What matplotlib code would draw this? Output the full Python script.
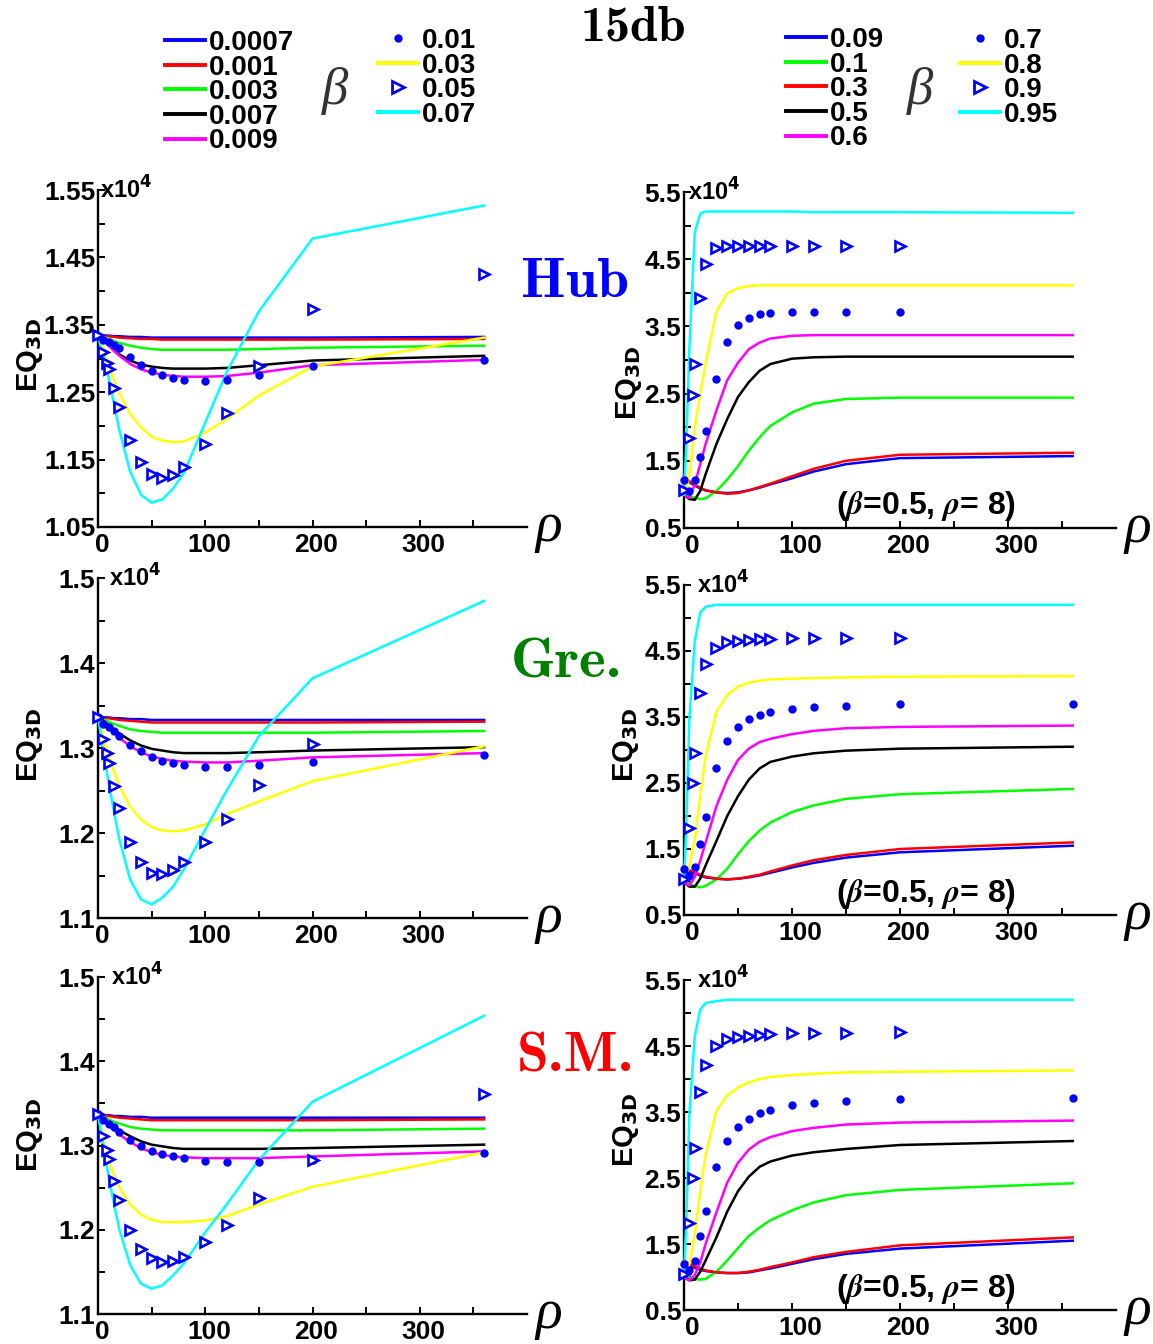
import numpy as np
import matplotlib
matplotlib.use("Agg")
import matplotlib.pyplot as plt
import matplotlib.transforms as mtransforms
from matplotlib.lines import Line2D
from matplotlib.ticker import MultipleLocator

plt.rcParams["font.family"] = ["Liberation Sans", "DejaVu Sans"]
plt.rcParams["font.weight"] = "bold"

nan = np.nan

# x grids (rho) for the lines and the two marker series
rho_line = [0, 2, 5, 10, 15, 20, 30, 40, 50, 60, 70, 80, 100, 120, 150, 200, 360]
rho_dot = [0, 5, 10, 15, 20, 30, 40, 50, 60, 70, 80, 100, 120, 150, 200, 360]
rho_tri = [0, 5, 8, 10, 15, 20, 30, 40, 50, 60, 70, 80, 100, 120, 150, 200, 360]

# legend labels (beta)
lo_line_labels = ["0.0007", "0.001", "0.003", "0.007", "0.009"]
lo_mark_labels = ["0.01", "0.03", "0.05", "0.07"]
hi_line_labels = ["0.09", "0.1", "0.3", "0.5", "0.6"]
hi_mark_labels = ["0.7", "0.8", "0.9", "0.95"]

# line colours, same order as the value lists below
lo_colors = ["#0000ff", "#ff0000", "#00ff00", "black", "#ff00ff", "#ffff00", "#00ffff"]
hi_colors = ["#0000ff", "#00ff00", "#ff0000", "black", "#ff00ff", "#ffff00", "#00ffff"]

# ---- EQ_3D (x1e4), small beta: 0.0007, 0.001, 0.003, 0.007, 0.009, 0.03, 0.07
hub_lo_lines = [
    [1.335, 1.335, 1.334, 1.334, 1.333, 1.333, 1.332, 1.332, 1.331, 1.331, 1.331, 1.331, 1.331, 1.331, 1.331, 1.331, 1.332],
    [1.335, 1.335, 1.334, 1.333, 1.332, 1.331, 1.330, 1.329, 1.329, 1.328, 1.328, 1.328, 1.328, 1.328, 1.328, 1.328, 1.329],
    [1.335, 1.334, 1.332, 1.329, 1.326, 1.323, 1.319, 1.316, 1.314, 1.313, 1.313, 1.313, 1.313, 1.313, 1.314, 1.316, 1.319],
    [1.335, 1.333, 1.329, 1.321, 1.313, 1.306, 1.297, 1.291, 1.288, 1.286, 1.285, 1.285, 1.285, 1.286, 1.290, 1.297, 1.304],
    [1.335, 1.332, 1.327, 1.319, 1.311, 1.304, 1.292, 1.284, 1.279, 1.276, 1.274, 1.273, 1.273, 1.274, 1.279, 1.290, 1.298],
    [1.335, 1.328, 1.315, 1.290, 1.268, 1.248, 1.218, 1.198, 1.184, 1.178, 1.176, 1.177, 1.190, 1.210, 1.245, 1.288, 1.331],
    [1.335, 1.320, 1.305, 1.271, 1.232, 1.193, 1.132, 1.098, 1.086, 1.091, 1.107, 1.130, 1.205, 1.280, 1.370, 1.478, 1.527],
]
hub_lo_dots = [1.334, 1.328, 1.324, 1.320, 1.315, 1.302, 1.291, 1.282, 1.276, 1.271, 1.268, 1.266, 1.268, 1.275, 1.289, 1.298]
hub_lo_tri = [1.335, 1.310, 1.293, 1.284, 1.256, 1.228, 1.179, 1.146, 1.128, 1.122, 1.127, 1.139, 1.173, 1.219, 1.289, 1.373, 1.425]

gre_lo_lines = [
    [1.337, 1.337, 1.336, 1.336, 1.335, 1.335, 1.334, 1.334, 1.333, 1.333, 1.333, 1.333, 1.333, 1.333, 1.333, 1.333, 1.333],
    [1.337, 1.337, 1.336, 1.335, 1.334, 1.333, 1.332, 1.331, 1.330, 1.330, 1.330, 1.330, 1.330, 1.330, 1.330, 1.330, 1.331],
    [1.337, 1.336, 1.334, 1.331, 1.328, 1.326, 1.322, 1.320, 1.319, 1.318, 1.318, 1.318, 1.318, 1.318, 1.318, 1.318, 1.320],
    [1.337, 1.335, 1.332, 1.327, 1.322, 1.317, 1.309, 1.303, 1.299, 1.297, 1.295, 1.294, 1.294, 1.294, 1.295, 1.297, 1.301],
    [1.337, 1.334, 1.330, 1.324, 1.318, 1.312, 1.302, 1.295, 1.290, 1.287, 1.285, 1.284, 1.283, 1.283, 1.285, 1.289, 1.294],
    [1.337, 1.327, 1.310, 1.290, 1.272, 1.255, 1.231, 1.216, 1.207, 1.203, 1.202, 1.203, 1.210, 1.222, 1.237, 1.261, 1.302],
    [1.337, 1.320, 1.294, 1.259, 1.224, 1.192, 1.145, 1.122, 1.116, 1.124, 1.137, 1.157, 1.204, 1.250, 1.314, 1.382, 1.473],
]
gre_lo_dots = [1.337, 1.328, 1.325, 1.320, 1.314, 1.303, 1.296, 1.290, 1.285, 1.282, 1.280, 1.278, 1.278, 1.280, 1.284, 1.292]
gre_lo_tri = [1.337, 1.311, 1.294, 1.282, 1.255, 1.229, 1.189, 1.166, 1.153, 1.152, 1.156, 1.166, 1.190, 1.217, 1.256, 1.305, nan]

sm_lo_lines = [
    [1.337, 1.337, 1.336, 1.336, 1.335, 1.335, 1.334, 1.334, 1.333, 1.333, 1.333, 1.333, 1.333, 1.333, 1.333, 1.333, 1.333],
    [1.337, 1.337, 1.336, 1.335, 1.334, 1.333, 1.332, 1.331, 1.330, 1.330, 1.330, 1.330, 1.330, 1.330, 1.330, 1.330, 1.331],
    [1.337, 1.336, 1.334, 1.331, 1.328, 1.326, 1.322, 1.320, 1.319, 1.318, 1.318, 1.318, 1.318, 1.318, 1.318, 1.318, 1.320],
    [1.337, 1.335, 1.332, 1.327, 1.322, 1.318, 1.311, 1.305, 1.301, 1.299, 1.297, 1.296, 1.296, 1.296, 1.296, 1.297, 1.301],
    [1.337, 1.334, 1.330, 1.325, 1.319, 1.313, 1.304, 1.297, 1.292, 1.289, 1.287, 1.286, 1.285, 1.285, 1.285, 1.287, 1.293],
    [1.337, 1.326, 1.306, 1.281, 1.265, 1.250, 1.230, 1.218, 1.212, 1.209, 1.209, 1.209, 1.211, 1.216, 1.230, 1.251, 1.292],
    [1.337, 1.322, 1.300, 1.262, 1.230, 1.200, 1.158, 1.136, 1.130, 1.134, 1.146, 1.160, 1.197, 1.230, 1.283, 1.352, 1.454],
]
sm_lo_dots = [1.337, 1.330, 1.326, 1.322, 1.316, 1.307, 1.300, 1.294, 1.290, 1.287, 1.285, 1.282, 1.281, 1.281, 1.283, 1.291]
sm_lo_tri = [1.337, 1.311, 1.295, 1.284, 1.258, 1.235, 1.200, 1.177, 1.166, 1.162, 1.163, 1.168, 1.185, 1.206, 1.238, 1.283, 1.361]

# ---- EQ_3D (x1e4), large beta: 0.09, 0.1, 0.3, 0.5, 0.6, 0.8, 0.95
hub_hi_lines = [
    [1.20, 1.22, 1.18, 1.13, 1.09, 1.06, 1.03, 1.02, 1.03, 1.06, 1.10, 1.15, 1.24, 1.34, 1.45, 1.54, 1.57],
    [1.05, 1.02, 0.98, 0.95, 0.93, 0.94, 1.05, 1.22, 1.42, 1.65, 1.85, 2.02, 2.22, 2.35, 2.42, 2.44, 2.44],
    [1.28, 1.25, 1.20, 1.14, 1.10, 1.06, 1.03, 1.01, 1.02, 1.06, 1.11, 1.16, 1.27, 1.38, 1.50, 1.59, 1.62],
    [1.00, 0.97, 0.93, 0.92, 1.05, 1.30, 1.75, 2.12, 2.45, 2.67, 2.84, 2.94, 3.02, 3.04, 3.05, 3.05, 3.05],
    [1.00, 0.97, 0.95, 1.15, 1.45, 1.75, 2.25, 2.70, 2.96, 3.16, 3.26, 3.32, 3.36, 3.37, 3.37, 3.37, 3.37],
    [1.00, 1.05, 1.30, 2.00, 2.50, 2.95, 3.72, 3.99, 4.07, 4.10, 4.11, 4.11, 4.11, 4.11, 4.11, 4.11, 4.11],
    [1.00, 1.70, 3.20, 4.90, 5.18, 5.21, 5.21, 5.21, 5.21, 5.21, 5.21, 5.21, 5.21, 5.20, 5.20, 5.20, 5.19],
]
hub_hi_dots = [1.22, 1.05, 1.22, 1.55, 1.94, 2.72, 3.27, 3.52, 3.63, 3.68, 3.70, 3.71, 3.71, 3.71, 3.71, nan]
hub_hi_tri = [1.07, 1.84, 2.48, 2.94, 3.92, 4.43, 4.67, 4.70, 4.70, 4.70, 4.70, 4.70, 4.70, 4.70, 4.70, 4.70, nan]

gre_hi_lines = [
    [1.18, 1.20, 1.17, 1.13, 1.10, 1.07, 1.05, 1.04, 1.05, 1.07, 1.10, 1.14, 1.22, 1.29, 1.37, 1.45, 1.55],
    [1.05, 1.00, 0.97, 0.94, 0.92, 0.94, 1.04, 1.20, 1.42, 1.62, 1.78, 1.90, 2.06, 2.16, 2.26, 2.33, 2.41],
    [1.25, 1.22, 1.18, 1.14, 1.11, 1.08, 1.05, 1.04, 1.05, 1.08, 1.11, 1.16, 1.25, 1.33, 1.41, 1.50, 1.60],
    [1.00, 0.97, 0.93, 0.93, 1.05, 1.25, 1.62, 2.00, 2.30, 2.55, 2.72, 2.82, 2.90, 2.95, 2.99, 3.02, 3.05],
    [1.00, 0.97, 0.95, 1.08, 1.32, 1.60, 2.15, 2.55, 2.85, 3.02, 3.12, 3.17, 3.24, 3.29, 3.33, 3.35, 3.37],
    [1.00, 1.05, 1.25, 1.65, 2.30, 2.90, 3.58, 3.83, 3.96, 4.02, 4.05, 4.07, 4.08, 4.09, 4.10, 4.11, 4.12],
    [1.00, 1.80, 3.50, 4.65, 5.08, 5.17, 5.20, 5.20, 5.20, 5.20, 5.20, 5.20, 5.20, 5.20, 5.20, 5.20, 5.20],
]
gre_hi_dots = [1.20, 1.10, 1.22, 1.58, 1.98, 2.72, 3.14, 3.35, 3.47, 3.53, 3.57, 3.62, 3.65, 3.67, 3.69, 3.70]
gre_hi_tri = [1.05, 1.82, 2.50, 2.96, 3.87, 4.30, 4.55, 4.63, 4.65, 4.67, 4.68, 4.68, 4.69, 4.69, 4.69, 4.70, nan]

sm_hi_lines = [
    [1.18, 1.20, 1.17, 1.14, 1.11, 1.09, 1.07, 1.06, 1.06, 1.07, 1.10, 1.13, 1.20, 1.27, 1.35, 1.43, 1.55],
    [1.05, 1.02, 0.99, 0.97, 0.96, 0.97, 1.08, 1.25, 1.44, 1.62, 1.75, 1.86, 2.01, 2.13, 2.24, 2.32, 2.42],
    [1.25, 1.23, 1.20, 1.16, 1.13, 1.10, 1.07, 1.06, 1.06, 1.08, 1.11, 1.15, 1.22, 1.30, 1.38, 1.48, 1.60],
    [1.00, 0.98, 0.95, 0.96, 1.08, 1.25, 1.60, 1.99, 2.30, 2.52, 2.67, 2.75, 2.84, 2.89, 2.94, 3.00, 3.06],
    [1.00, 0.97, 0.95, 1.03, 1.22, 1.50, 1.98, 2.43, 2.73, 2.93, 3.05, 3.12, 3.21, 3.26, 3.31, 3.34, 3.37],
    [1.00, 1.05, 1.20, 1.65, 2.30, 2.85, 3.52, 3.75, 3.87, 3.95, 4.00, 4.03, 4.06, 4.08, 4.10, 4.11, 4.13],
    [1.00, 1.80, 3.50, 4.65, 5.05, 5.15, 5.18, 5.20, 5.20, 5.20, 5.20, 5.20, 5.20, 5.20, 5.20, 5.20, 5.20],
]
sm_hi_dots = [1.20, 1.10, 1.25, 1.62, 2.00, 2.67, 3.06, 3.27, 3.40, 3.48, 3.53, 3.60, 3.63, 3.66, 3.69, 3.71]
sm_hi_tri = [1.05, 1.82, 2.50, 2.95, 3.81, 4.21, 4.50, 4.60, 4.63, 4.65, 4.66, 4.68, 4.69, 4.70, 4.70, 4.71, nan]

lo_top_ticks = [1.05, 1.15, 1.25, 1.35, 1.45, 1.55]
lo_ticks = [1.1, 1.2, 1.3, 1.4, 1.5]
hi_ticks = [0.5, 1.5, 2.5, 3.5, 4.5, 5.5]

W, H = 1153, 1344
fig = plt.figure(figsize=(W / 100, H / 100), dpi=100)


def px_axes(x0, y_top, x1, y_bot):
    return fig.add_axes([x0 / W, 1 - y_bot / H, (x1 - x0) / W, (y_bot - y_top) / H])


def draw_panel(ax, lines, colors, dots, tris, ticks, fmt, minor, lab_xy, exp_x, xlab_dx, note=False):
    for vals, c in zip(lines, colors):
        ax.plot(rho_line, vals, color=c, lw=1.8, clip_on=False, zorder=3)
    ax.plot(rho_dot, dots, ls="none", marker="o", ms=5, color="#0000ff",
            clip_on=False, zorder=4)
    ax.plot(rho_tri, tris, ls="none", marker=">", ms=7, mfc="white", mec="#0000ff",
            mew=1.9, clip_on=False, zorder=5)
    ax.set_xlim(0, 400)
    ax.set_ylim(ticks[0], ticks[-1])
    ax.set_xticks([0, 100, 200, 300])
    ax.set_xticks([50, 150, 250, 350], minor=True)
    ax.set_yticks(ticks)
    ax.set_yticklabels([fmt % t for t in ticks])
    ax.yaxis.set_minor_locator(MultipleLocator(minor))
    for s in ("top", "right"):
        ax.spines[s].set_visible(False)
    for s in ("left", "bottom"):
        ax.spines[s].set_linewidth(1.7)
    ax.tick_params(which="both", direction="in", length=5, width=1.4, labelsize=19)
    ax.tick_params(axis="y", pad=2)
    ax.tick_params(axis="x", pad=4.5)
    # the x tick labels sit a little right of their ticks in the original
    shift = mtransforms.ScaledTranslation(xlab_dx / 100, 0, fig.dpi_scale_trans)
    for lab in ax.get_xticklabels():
        lab.set_transform(lab.get_transform() + shift)
    ax.set_ylabel(r"EQ$_{\mathbf{3D}}$", fontsize=21, fontweight="bold")
    ax.yaxis.set_label_coords(*lab_xy)
    ax.text(exp_x, 1.0, r"x10$^{\mathbf{4}}$", transform=ax.transAxes, fontsize=17,
            ha="left", va="center")
    ax.text(1.05, 0.0, "ρ", transform=ax.transAxes, fontsize=40, family="Liberation Serif",
            style="italic", weight="normal", ha="center", va="center")
    if note:
        ax.text(0.56, 0.065, r"($\beta$=0.5, $\rho$= 8)", transform=ax.transAxes,
                fontsize=23, ha="center", va="center", math_fontfamily="stix")


ax_tl = px_axes(98, 190, 527, 527)
ax_ml = px_axes(98, 578, 527, 918)
ax_bl = px_axes(98, 977, 527, 1314)
ax_tr = px_axes(684, 192, 1116, 528)
ax_mr = px_axes(684, 585, 1116, 915)
ax_br = px_axes(684, 980, 1116, 1310)

draw_panel(ax_tl, hub_lo_lines, lo_colors, hub_lo_dots, hub_lo_tri, lo_top_ticks, "%.2f", 0.05, (-0.124, 0.51), 0.005, 4)
draw_panel(ax_ml, gre_lo_lines, lo_colors, gre_lo_dots, gre_lo_tri, lo_ticks, "%.1f", 0.05, (-0.124, 0.51), 0.025, 4)
draw_panel(ax_bl, sm_lo_lines, lo_colors, sm_lo_dots, sm_lo_tri, lo_ticks, "%.1f", 0.05, (-0.124, 0.53), 0.03, 4)
draw_panel(ax_tr, hub_hi_lines, hi_colors, hub_hi_dots, hub_hi_tri, hi_ticks, "%.1f", 0.5, (-0.092, 0.43), 0.01, 8, note=True)
draw_panel(ax_mr, gre_hi_lines, hi_colors, gre_hi_dots, gre_hi_tri, hi_ticks, "%.1f", 0.5, (-0.10, 0.515), 0.03, 8, note=True)
draw_panel(ax_br, sm_hi_lines, hi_colors, sm_hi_dots, sm_hi_tri, hi_ticks, "%.1f", 0.5, (-0.10, 0.545), 0.03, 8, note=True)

# row tags and title (Computer Modern bold)
cm_kw = dict(family="cmb10", weight="normal", ha="center", va="center")
fig.text(633 / W, 1 - 28 / H, "15db", fontsize=36, **cm_kw)
fig.text(575 / W, 1 - 283 / H, "Hub", fontsize=41, color="#0000ff", **cm_kw)
fig.text(566 / W, 1 - 663 / H, "Gre.", fontsize=41, color="#007f00", **cm_kw)
fig.text(575 / W, 1 - 1058 / H, "S.M.", fontsize=41, color="#ff0000", **cm_kw)

# legends
leg_prop = dict(weight="bold", size=20, family="Liberation Sans")
leg_kw = dict(loc="upper left", frameon=False, prop=leg_prop, handlelength=1.44,
              handletextpad=0.15, labelspacing=-0.05, borderpad=0, borderaxespad=0,
              bbox_transform=fig.transFigure)


def line_handles(colors):
    return [Line2D([], [], color=c, lw=2.8) for c in colors]


def mark_handles(c_mid, c_last):
    return [Line2D([], [], ls="none", marker="o", ms=5, color="#0000ff"),
            Line2D([], [], color=c_mid, lw=2.8),
            Line2D([], [], ls="none", marker=">", ms=8, mfc="white", mec="#0000ff", mew=2),
            Line2D([], [], color=c_last, lw=2.8)]


fig.legend(line_handles(lo_colors[:5]), lo_line_labels, bbox_to_anchor=(165 / W, 1 - 30 / H), **leg_kw)
fig.legend(mark_handles("#ffff00", "#00ffff"), lo_mark_labels, bbox_to_anchor=(378 / W, 1 - 28 / H), **leg_kw)
fig.legend(line_handles(hi_colors[:5]), hi_line_labels, bbox_to_anchor=(786 / W, 1 - 27 / H), **leg_kw)
fig.legend(mark_handles("#ffff00", "#00ffff"), hi_mark_labels, bbox_to_anchor=(960 / W, 1 - 28 / H), **leg_kw)

for bx in (335, 920):
    fig.text(bx / W, 1 - 91 / H, "β", fontsize=38, family="Liberation Serif", style="italic",
             weight="normal", color="#333333", ha="center", va="center")

fig.savefig("out.png", dpi=100)
